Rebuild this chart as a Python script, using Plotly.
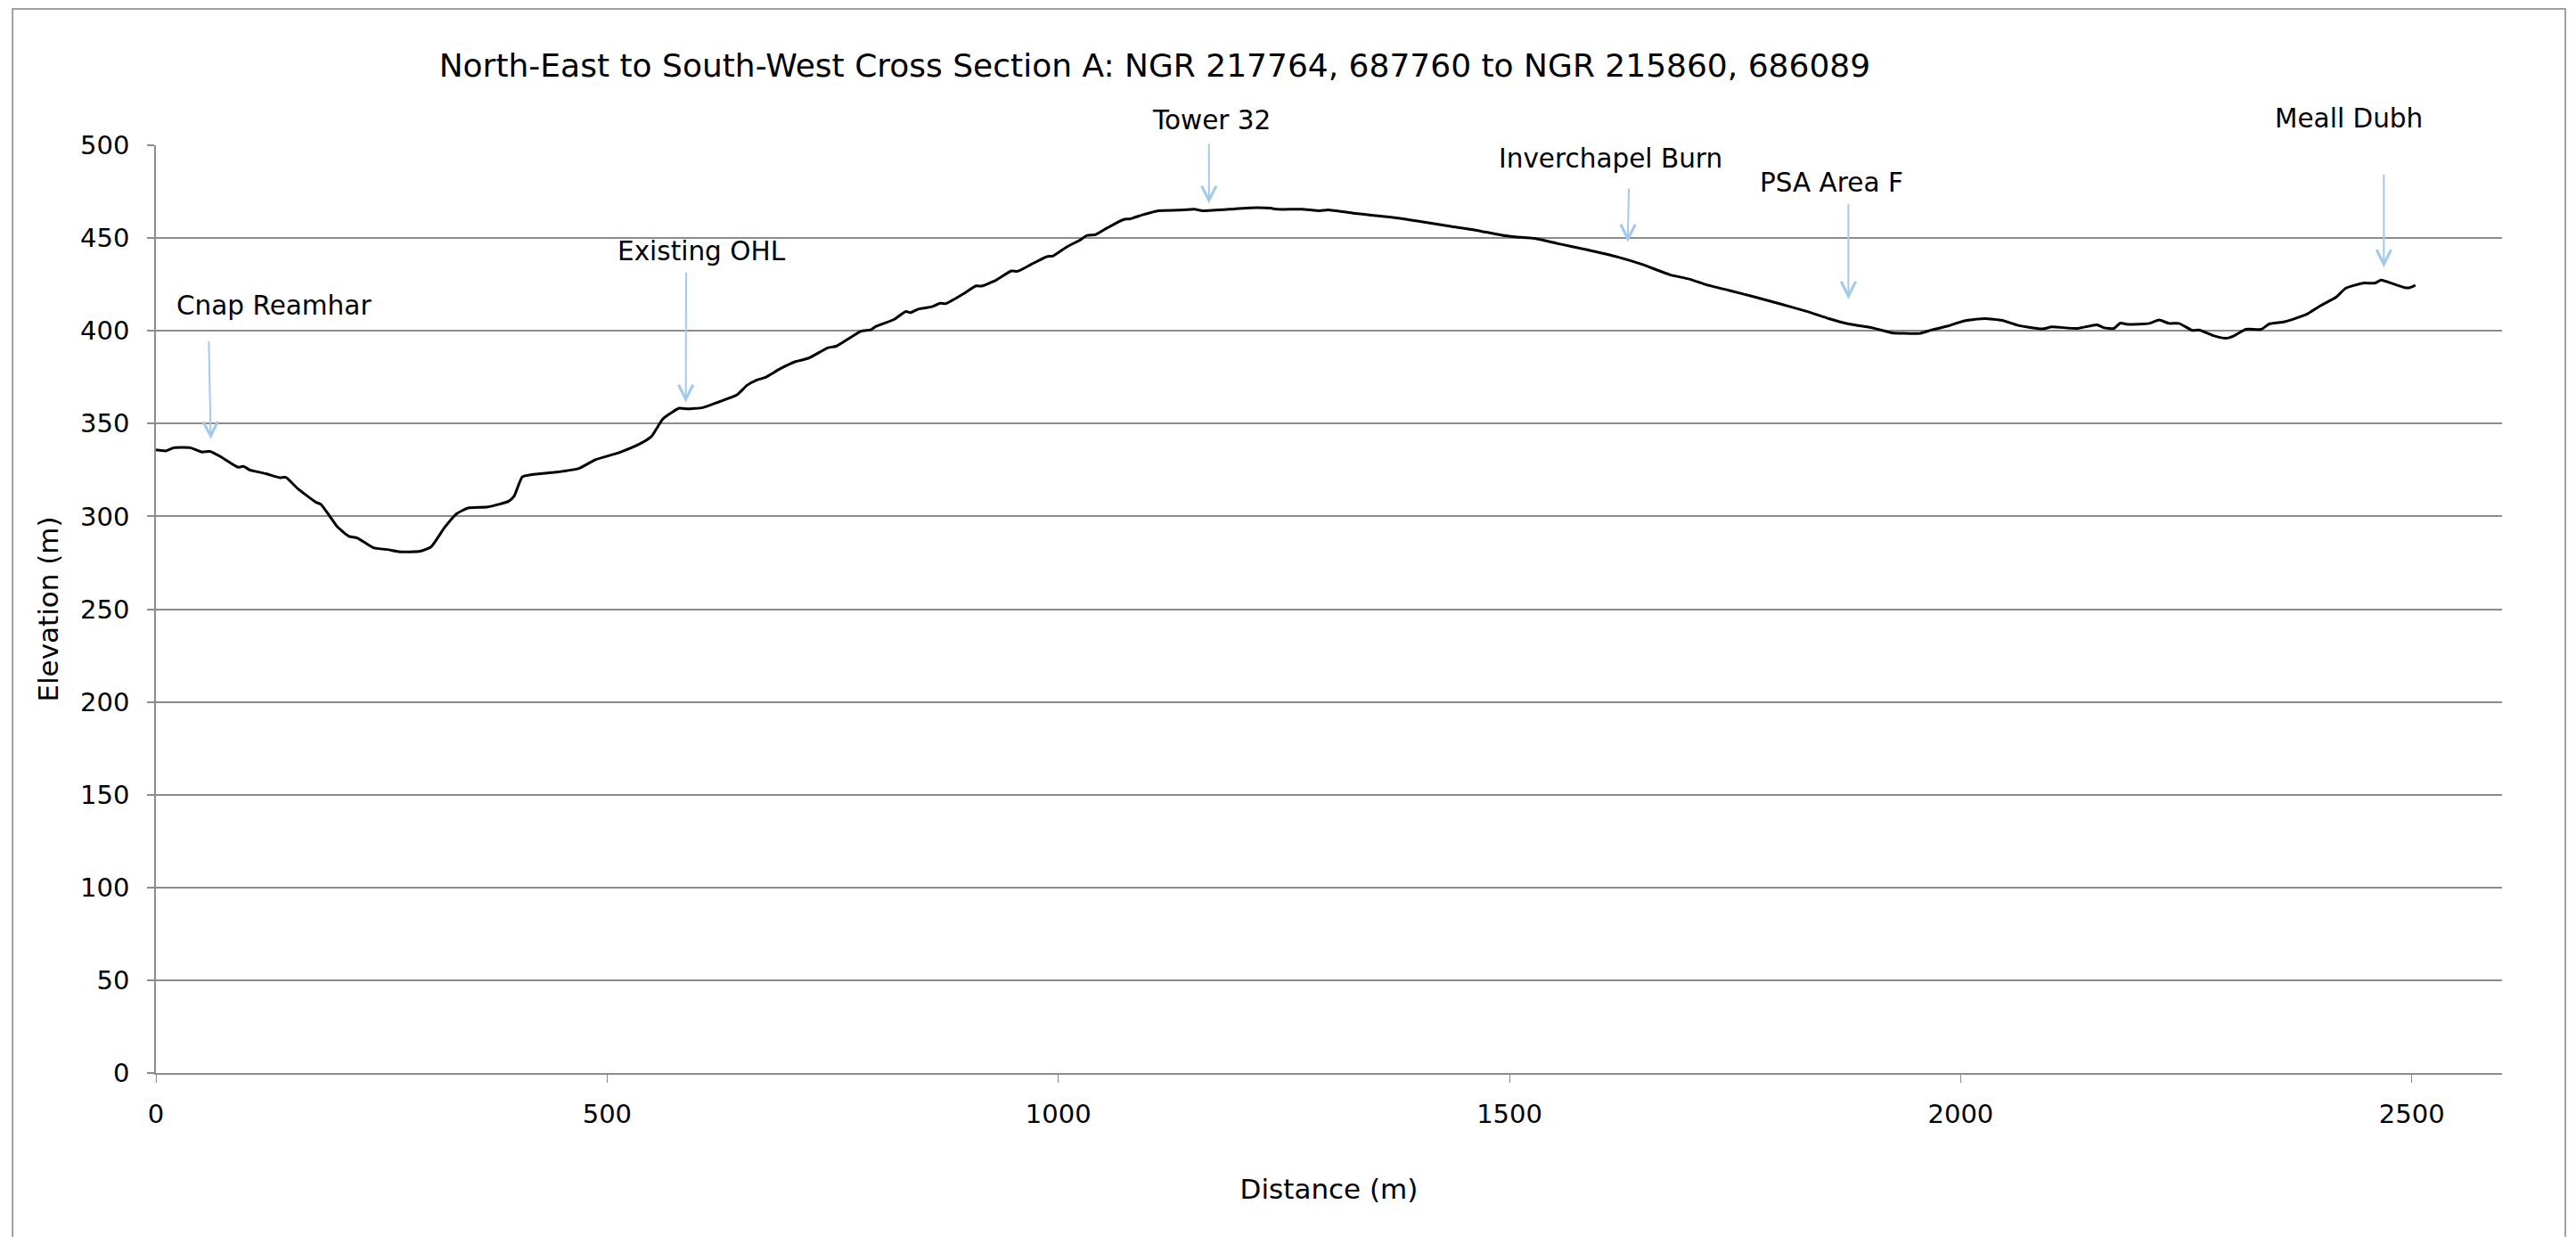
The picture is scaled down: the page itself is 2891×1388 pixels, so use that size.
import plotly.graph_objects as go

# ---- Profile data ----
distance_m = [
    0, 11, 20, 38, 51, 60, 73, 91, 97, 104, 122, 137, 144, 157, 177, 183, 192, 201, 214, 223,
    241, 258, 271, 293, 305, 320, 333, 346, 368, 391, 397, 406, 417, 443, 468, 487, 514, 536,
    549, 562, 580, 589, 606, 620, 644, 655, 666, 675, 692, 708, 723, 745, 754, 781, 792, 798,
    818, 831, 836, 845, 860, 869, 875, 893, 909, 915, 931, 948, 955, 970, 988, 994, 1010, 1023,
    1032, 1041, 1054, 1072, 1080, 1094, 1111, 1133, 1151, 1160, 1195, 1213, 1235, 1243, 1270,
    1290, 1299, 1327, 1347, 1373, 1404, 1435, 1462, 1492, 1506, 1528, 1554, 1585, 1620, 1647,
    1678, 1700, 1717, 1744, 1770, 1801, 1832, 1854, 1876, 1902, 1924, 1937, 1955, 1968, 1986,
    1998, 2007, 2027, 2046, 2064, 2090, 2101, 2129, 2151, 2159, 2170, 2177, 2185, 2209, 2220,
    2231, 2242, 2257, 2264, 2281, 2294, 2303, 2316, 2333, 2342, 2359, 2377, 2385, 2398, 2416,
    2427, 2446, 2459, 2466, 2477, 2492, 2498, 2504,
]
elevation_m = [
    335.8, 335.3, 337.0, 337.0, 334.7, 335.0, 331.8, 326.5, 327.0, 325.0, 323.0, 320.9, 321.0,
    315.0, 307.7, 306.4, 300.5, 294.4, 289.2, 288.4, 283.1, 282.0, 280.9, 281.2, 283.6, 294.1,
    301.3, 304.5, 305.1, 308.2, 310.9, 321.3, 322.5, 323.8, 325.7, 330.5, 334.5, 339.0, 343.0,
    352.6, 358.3, 357.9, 358.6, 361.0, 365.5, 370.6, 373.5, 374.8, 379.6, 383.3, 385.2, 390.9,
    391.7, 399.7, 400.5, 402.4, 406.1, 410.4, 409.8, 411.7, 413.0, 414.9, 414.6, 419.4, 424.2,
    424.1, 427.3, 432.3, 432.1, 435.8, 440.1, 440.3, 445.4, 448.6, 451.4, 451.8, 455.4, 459.9,
    460.4, 462.6, 464.7, 465.0, 465.5, 464.7, 465.7, 466.3, 466.1, 465.5, 465.5, 464.7, 465.2,
    463.4, 462.3, 461.0, 458.7, 456.3, 454.3, 451.5, 450.7, 449.8, 447.0, 443.8, 439.8, 435.8,
    430.2, 427.8, 425.0, 421.7, 418.5, 414.4, 410.1, 406.6, 403.7, 401.6, 398.9, 398.6, 398.6,
    400.5, 402.6, 404.5, 405.6, 406.6, 405.6, 402.9, 401.0, 402.1, 401.3, 403.2, 401.6, 401.3,
    404.2, 403.5, 404.0, 405.8, 404.0, 404.0, 400.2, 400.5, 397.3, 396.0, 397.3, 400.8, 400.8,
    403.7, 404.9, 407.7, 409.3, 413.3, 418.1, 423.0, 425.7, 425.7, 427.3, 425.7, 423.3, 423.3,
    424.6,
]

# ---- Feature labels and their arrows (data coordinates) ----
feature_labels = ["Cnap Reamhar", "Existing OHL", "Tower 32", "Inverchapel Burn", "PSA Area F", "Meall Dubh"]
label_x = [131, 605, 1170, 1612, 1857, 2430]
label_y = [413.6, 442.8, 513.3, 493.0, 479.6, 514.3]
arrow_tail_x = [58.6, 587.5, 1167, 1632.4, 1875.6, 2469]
arrow_tail_y = [395.0, 432.0, 501.4, 477.4, 469.0, 485.0]
arrow_tip_x = [60.8, 587.2, 1167, 1631.0, 1875.6, 2469]
arrow_tip_y = [341.6, 361.4, 468.6, 447.8, 417.0, 434.2]

x_range = [0, 2600]
y_range = [0, 500]
x_ticks = [0, 500, 1000, 1500, 2000, 2500]
y_ticks = [0, 50, 100, 150, 200, 250, 300, 350, 400, 450, 500]

title_text = "North-East to South-West Cross Section A: NGR 217764, 687760 to NGR 215860, 686089"

FONT = "DejaVu Sans"
GRID = "#8c8c8c"
ARROW = "#a3c9ec"

# the page body has an 8px margin; shrink the figure so it lands where the reference is
PAGE_OFFSET = 8
W, H = 2891 - PAGE_OFFSET, 1388 - PAGE_OFFSET
ML, MR, MT, MB = 175 - PAGE_OFFSET, 83, 163 - PAGE_OFFSET, 184


def y_to_paper(v):
    # labels above the axis range would be hidden with yref="y", so place them via paper fraction
    return (v - y_range[0]) / (y_range[1] - y_range[0])


fig = go.Figure()
fig.add_trace(go.Scatter(
    x=distance_m, y=elevation_m, mode="lines",
    line=dict(color="black", width=3, shape="spline", smoothing=0.5),
    showlegend=False, hoverinfo="x+y",
))

annotations = []
for i, lab in enumerate(feature_labels):
    annotations.append(dict(
        x=arrow_tip_x[i], y=arrow_tip_y[i], xref="x", yref="y",
        ax=arrow_tail_x[i], ay=arrow_tail_y[i], axref="x", ayref="y",
        text="", showarrow=True, arrowhead=5, arrowsize=1.6, arrowwidth=2,
        arrowcolor=ARROW, standoff=0, startstandoff=0,
    ))
    annotations.append(dict(
        x=label_x[i], y=y_to_paper(label_y[i]), xref="x", yref="paper", text=lab,
        showarrow=False, xanchor="center", yanchor="middle",
        font=dict(family=FONT, size=29.5, color="black"),
    ))

fig.update_layout(
    width=W, height=H,
    margin=dict(l=ML, r=MR, t=MT, b=MB, pad=0),
    paper_bgcolor="white", plot_bgcolor="white",
    font=dict(family=FONT, size=29, color="black"),
    title=dict(
        text=title_text, x=0.4257, xref="paper", xanchor="center",
        y=1 - (73.7 - PAGE_OFFSET) / H, yref="container", yanchor="middle",
        font=dict(family=FONT, size=36, color="black"),
    ),
    annotations=annotations,
    shapes=[dict(
        type="rect", xref="paper", yref="paper",
        x0=-0.0611, x1=1.0270, y0=-0.30, y1=1.1470,
        line=dict(color="#a0a0a0", width=2), fillcolor="rgba(0,0,0,0)", layer="below",
    )],
    xaxis=dict(
        range=x_range, tickvals=x_ticks, showgrid=False, zeroline=False,
        showline=True, linecolor=GRID, linewidth=1.5,
        ticks="outside", ticklen=9, tickwidth=1, tickcolor=GRID,
        ticklabelstandoff=10,
        tickfont=dict(family=FONT, size=29, color="black"),
        title=dict(text="Distance (m)", standoff=58, font=dict(family=FONT, size=31, color="black")),
    ),
    yaxis=dict(
        range=y_range, tickvals=y_ticks, showgrid=True, gridcolor=GRID, gridwidth=2,
        zeroline=False, showline=True, linecolor=GRID, linewidth=1.5,
        ticks="outside", ticklen=8, tickwidth=2, tickcolor=GRID,
        ticklabelstandoff=14,
        tickfont=dict(family=FONT, size=29, color="black"),
        title=dict(text="Elevation (m)", standoff=15, font=dict(family=FONT, size=31, color="black")),
    ),
)

fig.write_html("out.html")
